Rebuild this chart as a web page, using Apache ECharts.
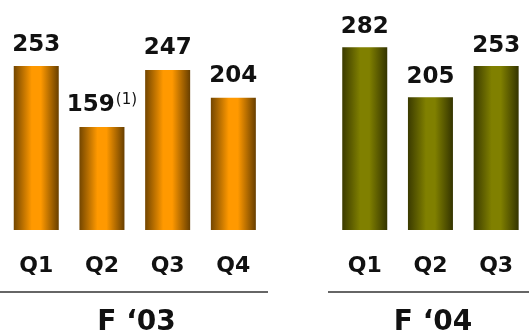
<!DOCTYPE html>
<html>
<head>
<meta charset="utf-8">
<script src="https://cdn.jsdelivr.net/npm/echarts@6/dist/echarts.min.js"></script>
<style>html,body{margin:0;padding:0;background:#fff}#c{width:529px;height:335px}</style>
</head>
<body>
<div id="c"></div>
<script>
var categories = ['Q1', 'Q2', 'Q3', 'Q4', '', 'Q1', 'Q2', 'Q3'];
var f03Values = [253, 159, 247, 204, '-', '-', '-', '-'];
var f03Notes = ['', '(1)', '', '', '', '', '', ''];
var f04Values = ['-', '-', '-', '-', '-', 282, 205, 253];
var groupLabels = ['F \u201803', 'F \u201804'];

var FONT = 'DejaVu Sans';
function grad(edgeL, mid, edgeR) {
  return new echarts.graphic.LinearGradient(0, 0, 1, 0, [
    {offset: 0, color: edgeL},
    {offset: 0.4, color: mid},
    {offset: 0.6, color: mid},
    {offset: 1, color: edgeR}
  ]);
}
var chart = echarts.init(document.getElementById('c'), null, {renderer: 'canvas'});
var labelCommon = {
  show: true, position: 'top', distance: 9,
  fontFamily: FONT, fontSize: 23, fontWeight: 'bold', color: '#111'
};
chart.setOption({
  animation: false,
  grid: {left: 3.4, right: -4.7, top: 35.6, bottom: 105},
  xAxis: {
    type: 'category', data: categories,
    axisLine: {show: false}, axisTick: {show: false},
    axisLabel: {fontFamily: FONT, fontSize: 22, fontWeight: 'bold', color: '#111', margin: 25}
  },
  yAxis: {type: 'value', min: 0, max: 300, show: false},
  series: [
    {
      type: 'bar', data: f03Values, barWidth: 45, barGap: '-100%',
      itemStyle: {color: grad('#734600', '#ff9900', '#683f00')},
      label: Object.assign({}, labelCommon, {
        formatter: function (p) {
          var n = f03Notes[p.dataIndex];
          return n ? '{v|' + p.value + '}{s|' + n + '}' : '{v|' + p.value + '}';
        },
        rich: {
          v: {fontFamily: FONT, fontSize: 23, fontWeight: 'bold', color: '#111', lineHeight: 25},
          s: {fontFamily: FONT, fontSize: 15, fontWeight: 'normal', color: '#111', lineHeight: 15, verticalAlign: 'top', padding: [0, 0, 0, 1]}
        }
      })
    },
    {
      type: 'bar', data: f04Values, barWidth: 45, barGap: '-100%',
      itemStyle: {color: grad('#3a3a00', '#808000', '#343400')},
      label: labelCommon
    }
  ],
  graphic: [
    {type: 'line', shape: {x1: 0, y1: 292, x2: 268, y2: 292}, style: {stroke: '#333', lineWidth: 1.5}},
    {type: 'line', shape: {x1: 328, y1: 292, x2: 529, y2: 292}, style: {stroke: '#333', lineWidth: 1.5}},
    {type: 'text', x: 136.5, y: 323, style: {text: groupLabels[0], x: 0, y: 0, align: 'center', verticalAlign: 'middle', fontFamily: FONT, fontSize: 28, fontWeight: 'bold', fill: '#111'}},
    {type: 'text', x: 433, y: 323, style: {text: groupLabels[1], x: 0, y: 0, align: 'center', verticalAlign: 'middle', fontFamily: FONT, fontSize: 28, fontWeight: 'bold', fill: '#111'}}
  ]
});
</script>
</body>
</html>
